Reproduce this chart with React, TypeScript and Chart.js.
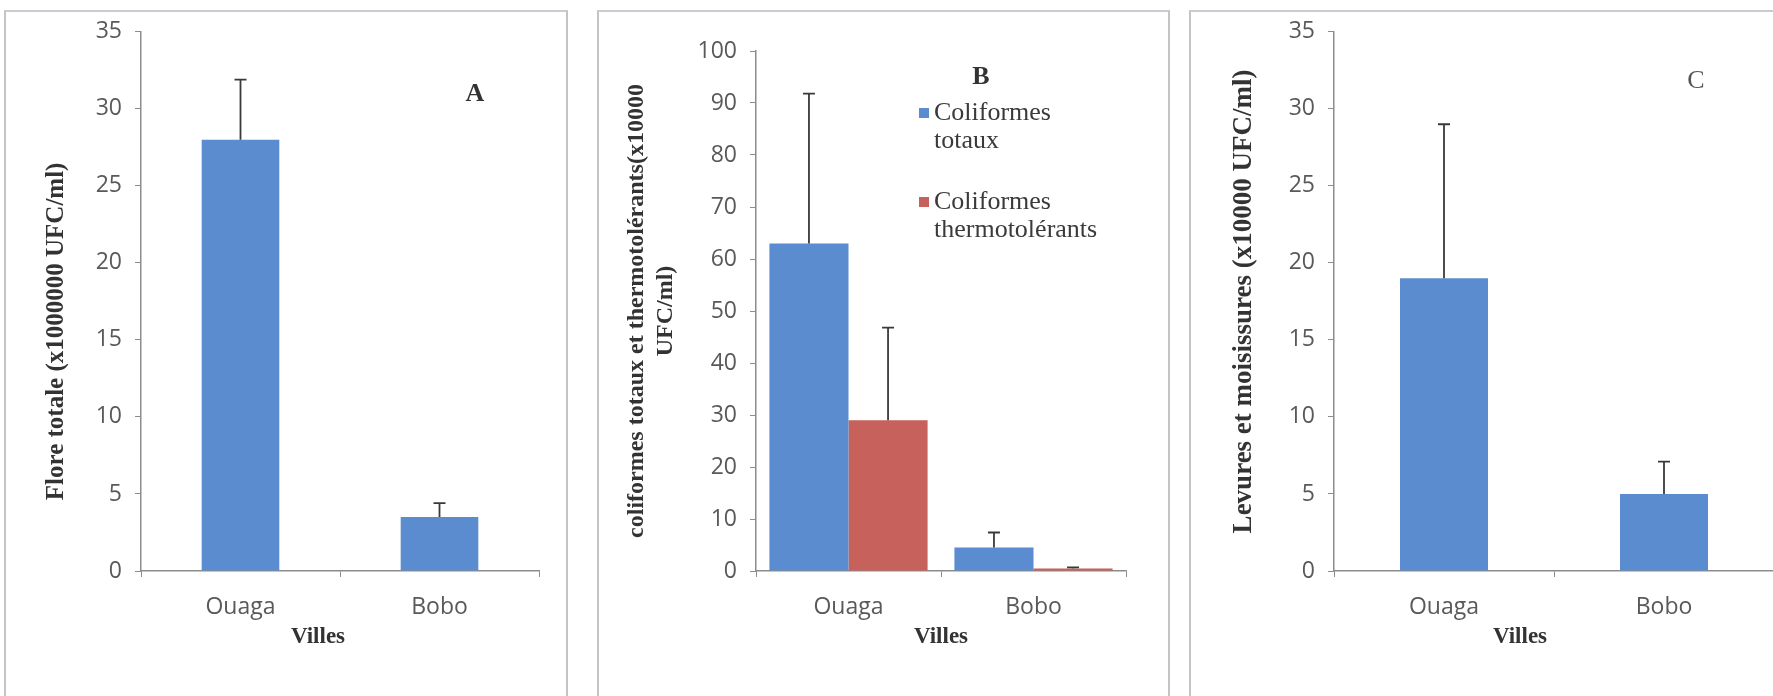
import React, { useEffect, useRef } from 'react';
import { Chart, registerables } from 'chart.js';

Chart.register(...registerables);

// ---- data ----
const cities = ['Ouaga', 'Bobo'];

const floreTotale = [28, 3.5];
const floreTotaleErr = [3.9, 0.9];

const colTotauxLabel = 'Coliformes totaux';
const colTotaux = [63, 4.5];
const colTotauxErr = [28.8, 2.9];

const colThermoLabel = 'Coliformes thermotolérants';
const colThermo = [29, 0.5];
const colThermoErr = [17.8, 0.2];

const levures = [19, 5];
const levuresErr = [10, 2.1];

const yMaxA = 35;
const yStepA = 5;
const yMaxB = 100;
const yStepB = 10;
const yMaxC = 35;
const yStepC = 5;

const titleA = 'Flore totale (x1000000 UFC/ml)';
const titleB = ['coliformes totaux et thermotolérants(x10000', 'UFC/ml)'];
const titleC = 'Levures et moisissures (x10000 UFC/ml)';
const xTitle = 'Villes';

// ---- styles ----
const BLUE = '#5b8ccf';
const RED = '#c6615b';
const AXIS = '#8c8c8c';
const TICK_COLOR = '#595959';
const TITLE_COLOR = '#333333';
const SERIF = "'Liberation Serif', 'Times New Roman', serif";
const SANS = "'Open Sans', sans-serif";

const errorBars = {
  id: 'errorBars',
  afterDatasetsDraw(chart: any) {
    const ctx = chart.ctx;
    const y = chart.scales.y;
    chart.data.datasets.forEach((ds: any, i: number) => {
      const meta = chart.getDatasetMeta(i);
      const errs: number[] = ds.errors || [];
      meta.data.forEach((bar: any, j: number) => {
        const v = ds.data[j];
        const top = y.getPixelForValue(v + errs[j]);
        ctx.save();
        ctx.strokeStyle = '#3a3a3a';
        ctx.lineWidth = 1.8;
        ctx.beginPath();
        ctx.moveTo(bar.x, bar.y);
        ctx.lineTo(bar.x, top);
        ctx.moveTo(bar.x - 6, top);
        ctx.lineTo(bar.x + 6, top);
        ctx.stroke();
        ctx.restore();
      });
    });
  },
};

// axis titles (Excel places them slightly off-centre, so they are drawn with offsets)
const axisTitles = {
  id: 'axisTitles',
  afterDraw(chart: any, _args: any, o: any) {
    const ctx = chart.ctx;
    const ca = chart.chartArea;
    ctx.save();
    ctx.fillStyle = TITLE_COLOR;
    ctx.textAlign = 'center';
    ctx.textBaseline = 'middle';
    ctx.font = `bold 23px ${SERIF}`;
    ctx.fillText(o.xText, (ca.left + ca.right) / 2 + o.xDx, ca.bottom + o.xDy);
    ctx.font = `bold ${o.ySize}px ${SERIF}`;
    const lines: string[] = Array.isArray(o.yText) ? o.yText : [o.yText];
    lines.forEach((ln, k) => {
      ctx.save();
      ctx.translate(o.yX + k * o.ySize * 1.2, (ca.top + ca.bottom) / 2 + o.yDy);
      ctx.rotate(-Math.PI / 2);
      ctx.fillText(ln, 0, 0);
      ctx.restore();
    });
    ctx.restore();
  },
};

const panelText = {
  id: 'panelText',
  afterDraw(chart: any, _args: any, opts: any) {
    const ctx = chart.ctx;
    if (opts.letter) {
      ctx.save();
      ctx.font = opts.letterFont;
      ctx.fillStyle = opts.letterColor;
      ctx.textAlign = 'center';
      ctx.textBaseline = 'middle';
      ctx.fillText(opts.letter, opts.letterX, opts.letterY);
      ctx.restore();
    }
    if (opts.legend) {
      ctx.save();
      ctx.font = `26px ${SERIF}`;
      ctx.textAlign = 'left';
      ctx.textBaseline = 'middle';
      chart.data.datasets.forEach((ds: any, i: number) => {
        const label: string = ds.label;
        const sp = label.indexOf(' ');
        const lines = [label.slice(0, sp), label.slice(sp + 1)];
        const y0 = opts.legendY[i];
        ctx.fillStyle = ds.backgroundColor;
        ctx.fillRect(opts.legendX, y0 - 5, 10, 10);
        ctx.fillStyle = '#3a3a3a';
        lines.forEach((ln, k) => {
          ctx.fillText(ln, opts.legendX + 15, y0 + k * 28);
        });
      });
      ctx.restore();
    }
  },
};

function makeScales(cfg: any) {
  return {
    x: {
      type: 'category',
      offset: true,
      grid: {
        display: true,
        offset: true,
        drawOnChartArea: false,
        drawTicks: true,
        tickLength: 6,
        color: AXIS,
      },
      border: { display: true, color: AXIS, width: 1.5 },
      ticks: {
        color: TICK_COLOR,
        font: { family: SANS, size: 23 },
        padding: 17,
        maxRotation: 0,
      },
      title: { display: false },
      afterFit: (s: any) => {
        s.height = 80;
      },
    },
    y: {
      min: 0,
      max: cfg.yMax,
      ticks: {
        stepSize: cfg.yStep,
        color: TICK_COLOR,
        font: { family: SANS, size: 23 },
        padding: 13,
      },
      grid: {
        display: true,
        drawOnChartArea: false,
        drawTicks: true,
        tickLength: 6,
        color: AXIS,
      },
      border: { display: true, color: AXIS, width: 1.5 },
      title: { display: false },
      afterFit: (s: any) => {
        s.width = cfg.yWidth;
      },
    },
  };
}

function Panel(props: any) {
  const ref = useRef<HTMLCanvasElement>(null);
  useEffect(() => {
    if (!ref.current) return;
    const chart = new Chart(ref.current, {
      type: 'bar',
      data: { labels: cities, datasets: props.datasets },
      options: {
        responsive: false,
        animation: false,
        devicePixelRatio: 1,
        layout: { padding: props.padding },
        datasets: {
          bar: {
            barPercentage: props.barPct,
            categoryPercentage: props.catPct,
          },
        },
        scales: makeScales(props.scaleCfg) as any,
        plugins: {
          legend: { display: false },
          tooltip: { enabled: false },
          panelText: props.textCfg,
          axisTitles: props.titleCfg,
        } as any,
      },
      plugins: [errorBars, axisTitles, panelText],
    });
    return () => chart.destroy();
  }, []);
  return (
    <canvas
      ref={ref}
      width={props.w}
      height={props.h}
      style={{ position: 'absolute', left: props.left, top: props.top, width: props.w, height: props.h }}
    />
  );
}

const border = (left: number, width: number, right: boolean): React.CSSProperties => ({
  position: 'absolute',
  left,
  top: 10,
  width,
  height: 700,
  borderTop: '2px solid #c9ccd2',
  borderLeft: '2px solid #c4c4c4',
  borderRight: right ? '2px solid #c4c4c4' : 'none',
  boxSizing: 'border-box',
});

export default function App() {
  return (
    <div
      style={{
        position: 'absolute',
        left: 0,
        top: 0,
        width: 1773,
        height: 696,
        overflow: 'hidden',
        background: '#ffffff',
      }}
    >
      <div style={border(4, 564, true)} />
      <div style={border(597, 573, true)} />
      <div style={border(1189, 700, false)} />

      <Panel
        left={13}
        top={5}
        w={553}
        h={691}
        padding={{ left: 0, right: 27, top: 13.8, bottom: 45 }}
        barPct={0.39}
        catPct={1}
        scaleCfg={{ yMax: yMaxA, yStep: yStepA, yWidth: 128 }}
        titleCfg={{ xText: xTitle, xDx: -22, xDy: 66, yText: titleA, ySize: 25, yX: 44, yDy: 30 }}
        textCfg={{ letter: 'A', letterX: 462, letterY: 89, letterFont: `bold 26px ${SERIF}`, letterColor: '#333' }}
        datasets={[{ label: 'Flore totale', data: floreTotale, errors: floreTotaleErr, backgroundColor: BLUE }]}
      />

      <Panel
        left={599}
        top={5}
        w={569}
        h={691}
        padding={{ left: 0, right: 42, top: 46, bottom: 45 }}
        barPct={1}
        catPct={0.855}
        scaleCfg={{ yMax: yMaxB, yStep: yStepB, yWidth: 157 }}
        titleCfg={{ xText: xTitle, xDx: 0, xDy: 66, yText: titleB, ySize: 24, yX: 38, yDy: 0 }}
        textCfg={{
          letter: 'B',
          letterX: 382,
          letterY: 72,
          letterFont: `bold 26px ${SERIF}`,
          letterColor: '#333',
          legend: true,
          legendX: 320,
          legendY: [108, 197],
        }}
        datasets={[
          { label: colTotauxLabel, data: colTotaux, errors: colTotauxErr, backgroundColor: BLUE },
          { label: colThermoLabel, data: colThermo, errors: colThermoErr, backgroundColor: RED },
        ]}
      />

      <Panel
        left={1191}
        top={5}
        w={600}
        h={691}
        padding={{ left: 0, right: 17, top: 13.8, bottom: 45 }}
        barPct={0.4}
        catPct={1}
        scaleCfg={{ yMax: yMaxC, yStep: yStepC, yWidth: 143 }}
        titleCfg={{ xText: xTitle, xDx: -34, xDy: 66, yText: titleC, ySize: 27, yX: 53, yDy: 0 }}
        textCfg={{ letter: 'C', letterX: 505, letterY: 76.4, letterFont: `26px ${SERIF}`, letterColor: '#555' }}
        datasets={[{ label: 'Levures et moisissures', data: levures, errors: levuresErr, backgroundColor: BLUE }]}
      />
    </div>
  );
}
